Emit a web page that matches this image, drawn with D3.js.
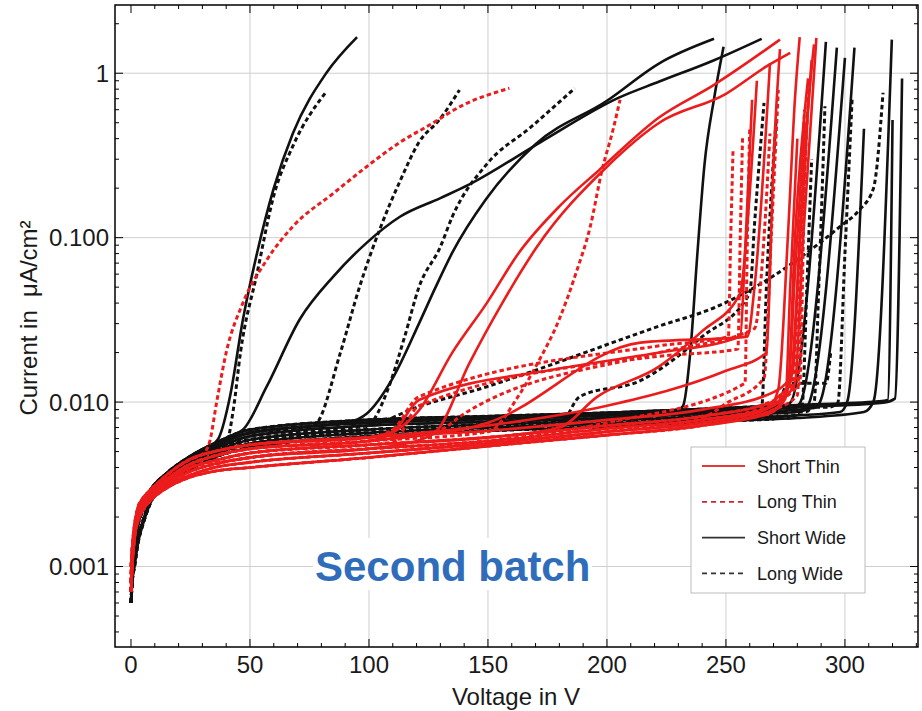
<!DOCTYPE html>
<html>
<head>
<meta charset="utf-8">
<script src="https://cdn.jsdelivr.net/npm/d3@7"></script>
<style>
  body { margin: 0; background: #fff; }
  text { font-family: "Liberation Sans", Arial, sans-serif; }
</style>
</head>
<body>
<div id="chart"></div>
<script>
// leakage levels (V, uA/cm2), several levels per colour
var leakBlack = [
  [[0,0.0006],[0.5,0.0009],[1.5,0.0014],[3,0.0020],[5,0.0024],[8,0.0029],[15,0.0037],[25,0.0047],[35,0.0056],[50,0.0068],[100,0.0078],[150,0.0082],[200,0.0086],[250,0.0092],[280,0.0096],[320,0.0104]],
  [[0,0.0007],[0.5,0.0010],[1.5,0.0015],[3,0.0020],[5,0.0024],[8,0.0028],[15,0.0036],[25,0.0046],[35,0.0054],[50,0.0065],[100,0.0075],[150,0.0079],[200,0.0083],[250,0.0089],[280,0.0093],[320,0.0101]],
  [[0,0.0008],[0.5,0.0010],[1.5,0.0014],[3,0.0019],[5,0.0023],[8,0.0027],[15,0.0035],[25,0.0045],[35,0.0052],[50,0.0062],[100,0.0072],[150,0.0076],[200,0.0080],[250,0.0086],[280,0.0090],[320,0.0099]],
  [[0,0.0007],[0.5,0.0009],[1.5,0.0013],[3,0.0018],[5,0.0022],[8,0.0027],[15,0.0034],[25,0.0043],[35,0.0050],[50,0.0059],[100,0.0068],[150,0.0073],[200,0.0077],[250,0.0083],[280,0.0087],[320,0.0096]],
  [[0,0.0006],[0.5,0.0008],[1.5,0.0011],[3,0.0015],[5,0.0019],[8,0.0025],[15,0.0033],[25,0.0041],[35,0.0048],[50,0.0056],[100,0.0065],[150,0.0070],[200,0.0074],[250,0.0080],[280,0.0083],[320,0.0093]],
  [[0,0.0006],[0.5,0.0008],[1.5,0.0010],[3,0.0014],[5,0.0018],[8,0.0024],[15,0.0032],[25,0.0039],[35,0.0046],[50,0.0053],[100,0.0062],[150,0.0067],[200,0.0071],[250,0.0077],[280,0.0080],[320,0.0090]]
];
var leakRed = [
  [[0,0.0010],[0.5,0.0013],[1.5,0.0018],[3,0.0023],[5,0.0026],[8,0.0029],[15,0.0036],[25,0.0045],[35,0.0050],[50,0.0055],[100,0.0061],[150,0.0067],[200,0.0078],[240,0.0090],[270,0.0115],[280,0.0135]],
  [[0,0.0009],[0.5,0.0012],[1.5,0.0017],[3,0.0022],[5,0.0025],[8,0.0028],[15,0.0034],[25,0.0042],[35,0.0047],[50,0.0052],[100,0.0058],[150,0.0064],[200,0.0075],[240,0.0086],[270,0.0108],[280,0.0126]],
  [[0,0.0008],[0.5,0.0011],[1.5,0.0016],[3,0.0021],[5,0.0024],[8,0.0027],[15,0.0033],[25,0.0040],[35,0.0044],[50,0.0049],[100,0.0055],[150,0.0061],[200,0.0072],[240,0.0082],[270,0.0101],[280,0.0118]],
  [[0,0.0008],[0.5,0.0011],[1.5,0.0016],[3,0.0021],[5,0.0024],[8,0.0027],[15,0.0032],[25,0.0038],[35,0.0042],[50,0.0046],[100,0.0052],[150,0.0058],[200,0.0069],[240,0.0078],[270,0.0095],[280,0.0110]],
  [[0,0.0007],[0.5,0.0010],[1.5,0.0015],[3,0.0020],[5,0.0023],[8,0.0026],[15,0.0031],[25,0.0036],[35,0.0040],[50,0.0043],[100,0.0049],[150,0.0056],[200,0.0066],[240,0.0075],[270,0.0090],[280,0.0104]],
  [[0,0.0007],[0.5,0.0010],[1.5,0.0015],[3,0.0019],[5,0.0022],[8,0.0025],[15,0.0030],[25,0.0035],[35,0.0038],[50,0.0040],[100,0.0046],[150,0.0054],[200,0.0063],[240,0.0072],[270,0.0086],[280,0.0098]]
];

// each curve: leak level index + points after it leaves the band
var shortThin = [
  {leak: 1, pts: [[112,0.0068],[121,0.0089],[135,0.020],[149.5,0.040],[163,0.081],[180,0.155],[197,0.26],[222,0.54],[245,0.85],[272.7,1.6]]},
  {leak: 3, pts: [[120,0.0058],[128.6,0.0067],[142,0.017],[156,0.040],[170.6,0.088],[200,0.27],[222,0.50],[250,0.75],[267,1.1],[277,1.33]]},
  {leak: 0, pts: [[110,0.0066],[121,0.0103],[180,0.016],[222,0.020],[256,0.025],[258,0.08],[261,0.69]]},
  {leak: 2, pts: [[180,0.0070],[196,0.0108],[222,0.0165],[240,0.027],[256,0.046],[259,0.12],[263,0.9]]},
  {leak: 1, pts: [[150,0.0075],[214,0.023],[259,0.025],[262,0.05],[268.5,1.15]]},
  {leak: 4, pts: [[268,0.0093],[272,0.012],[276,0.1],[279,0.7],[281,1.66]]},
  {leak: 5, pts: [[270,0.0090],[276,0.012],[279,0.1],[284.5,0.93]]},
  {leak: 3, pts: [[272,0.0100],[279,0.013],[282,0.08],[288,1.64]]},
  {leak: 0, pts: [[274,0.0125],[278,0.015],[281,0.1],[286,1.2]]},
  {leak: 2, pts: [[272,0.0108],[277,0.013],[280,0.05],[284,0.5],[287,1.5]]},
  {leak: 4, pts: [[265,0.0088],[276,0.0120],[279,0.06],[283,0.5]]},
  {leak: 5, pts: [[268,0.0085],[275,0.0105],[277,0.05],[280,0.4]]},
  {leak: 0, pts: [[150,0.0072],[200,0.0095],[250,0.0155],[267,0.020],[270,0.3],[272.7,1.4]]}
];
var longThin = [
  {leak: 0, pts: [[30,0.0048],[33,0.0057],[36,0.010],[40,0.020],[47,0.040],[57,0.073],[68,0.117],[85,0.186],[99,0.27],[113,0.38],[125,0.48],[139.5,0.64],[159,0.81]]},
  {leak: 1, pts: [[150,0.0066],[163,0.011],[170.6,0.017],[180,0.032],[187,0.061],[193,0.117],[198,0.26],[202.5,0.45],[205.5,0.69]]},
  {leak: 0, pts: [[110,0.0068],[121,0.0108],[222,0.022],[251,0.025],[252,0.1],[253,0.35]]},
  {leak: 2, pts: [[110,0.0057],[121,0.0095],[222,0.019],[255,0.021],[256,0.1],[257,0.42]]},
  {leak: 3, pts: [[200,0.0075],[258,0.013],[259,0.1],[260,0.47]]},
  {leak: 1, pts: [[130,0.0068],[140,0.0085],[222,0.020],[262,0.028],[266,0.1],[268.5,0.43]]},
  {leak: 4, pts: [[240,0.0080],[250,0.0098],[266,0.014],[269,0.1],[272,0.79]]},
  {leak: 2, pts: [[270,0.0102],[278,0.013],[281,0.1],[283,0.6]]},
  {leak: 5, pts: [[270,0.0090],[280,0.0110],[282,0.1],[284,0.5]]},
  {leak: 3, pts: [[265,0.0092],[281,0.013],[283,0.2],[285,0.9]]}
];
var shortWide = [
  {leak: 0, pts: [[37,0.0061],[41.6,0.0108],[47,0.0316],[53,0.081],[60,0.20],[68,0.43],[82,1.0],[95,1.66]]},
  {leak: 0, pts: [[45,0.0065],[47,0.0068],[57,0.0124],[71,0.032],[85,0.058],[99,0.093],[113,0.134],[130,0.174],[142,0.21],[172,0.38],[205,0.71],[222,0.89],[245,1.2],[265,1.62]]},
  {leak: 1, pts: [[92,0.0076],[99,0.0085],[110,0.014],[121,0.030],[128,0.050],[135,0.081],[149,0.17],[170,0.37],[200,0.68],[222,1.15],[245,1.62]]},
  {leak: 2, pts: [[228,0.0085],[232,0.0095],[235,0.020],[238,0.080],[241,0.28],[245,0.7],[249,1.45]]},
  {leak: 0, pts: [[275,0.0096],[277,0.0099],[292,1.55]]},
  {leak: 1, pts: [[279,0.0093],[281,0.0098],[296.6,1.43]]},
  {leak: 3, pts: [[283,0.0089],[285,0.0099],[300,1.24]]},
  {leak: 2, pts: [[287,0.0092],[289.5,0.0100],[304,1.43]]},
  {leak: 4, pts: [[298,0.0087],[301,0.0101],[308,0.46]]},
  {leak: 5, pts: [[308,0.0087],[312,0.0101],[319.7,1.6]]},
  {leak: 0, pts: [[314,0.0101],[318,0.0103],[320,0.52]]},
  {leak: 1, pts: [[316,0.0099],[321,0.0105],[324,0.93]]}
];
var longWide = [
  {leak: 2, pts: [[40,0.0056],[43,0.009],[46,0.020],[53,0.061],[60,0.18],[68,0.36],[82,0.77]]},
  {leak: 1, pts: [[75,0.0070],[78,0.0074],[88,0.020],[96,0.050],[105,0.117],[113,0.22],[121,0.38],[130,0.53],[138,0.79]]},
  {leak: 3, pts: [[98,0.0068],[102,0.0078],[108,0.012],[115,0.025],[121,0.050],[130,0.088],[135,0.134],[149.5,0.28],[168,0.47],[186.5,0.81]]},
  {leak: 2, pts: [[100,0.0072],[121,0.0094],[149.5,0.0124],[163.5,0.0145],[222,0.029],[246,0.038],[267,0.055],[284,0.081],[298,0.117],[306,0.147],[312,0.2],[316,0.76]]},
  {leak: 4, pts: [[180,0.0073],[188.6,0.0108],[214,0.0135],[240,0.025],[260,0.046],[262,0.12],[266,0.66]]},
  {leak: 3, pts: [[283,0.0087],[287,0.0098],[289,0.05],[291.6,0.63]]},
  {leak: 1, pts: [[293,0.0093],[297,0.0099],[300,0.08],[303,0.69]]},
  {leak: 5, pts: [[277,0.0080]]},
  {leak: 4, pts: [[279,0.0083],[282,0.0095],[284,0.05],[286,0.3]]},
  {leak: 5, pts: [[270,0.0079],[276,0.013],[292,0.013],[294,0.02]]},
  {leak: 0, pts: [[276,0.0096]]},
  {leak: 3, pts: [[262,0.0085],[265,0.0092],[267,0.05],[271,0.5]]}
];

var xTicks = [0, 50, 100, 150, 200, 250, 300];
var yTicks = [0.001, 0.01, 0.1, 1];
var yTickLabels = ["0.001", "0.010", "0.100", "1"];
var legendLabels = ["Short Thin", "Long Thin", "Short Wide", "Long Wide"];

var W = 922, H = 711;
var box = {left: 115, right: 918, top: 5, bottom: 647};
var red = "#ec1c1c", black = "#111";

var x = d3.scaleLinear().domain([-6.72, 330.7]).range([box.left, box.right]);
var y = d3.scaleLog().domain([0.000324, 2.60]).range([box.bottom, box.top]);

var svg = d3.select("#chart").append("svg")
  .attr("width", W).attr("height", H);

svg.append("defs").append("clipPath").attr("id", "clip")
  .append("rect")
    .attr("x", box.left).attr("y", box.top)
    .attr("width", box.right - box.left).attr("height", box.bottom - box.top);

// grid
var grid = svg.append("g").attr("stroke", "#cfcfcf").attr("stroke-width", 1);
xTicks.filter(function(d){ return d > 0; }).forEach(function(d){
  grid.append("line").attr("x1", x(d)).attr("x2", x(d))
    .attr("y1", box.top).attr("y2", box.bottom);
});
yTicks.forEach(function(d){
  grid.append("line").attr("y1", y(d)).attr("y2", y(d))
    .attr("x1", box.left).attr("x2", box.right);
});

// "Second batch" sits on a white patch that hides the grid
svg.append("rect").attr("x", 313).attr("y", 538).attr("width", 279).attr("height", 52)
  .attr("fill", "#fff");

// curves
function build(c, leaks){
  var start = c.pts[0][0];
  var pts = leaks[c.leak].filter(function(p){ return p[0] < start; });
  return pts.concat(c.pts);
}
var line = d3.line()
  .x(function(d){ return x(d[0]); })
  .y(function(d){ return y(d[1]); })
  .curve(d3.curveMonotoneX);

var plot = svg.append("g").attr("clip-path", "url(#clip)").attr("fill", "none")
  .attr("stroke-linejoin", "round");

function drawSet(set, leaks, color, dashed){
  plot.selectAll(null)
    .data(set)
    .enter()
    .append("path")
      .attr("d", function(c){ return line(build(c, leaks)); })
      .attr("stroke", color)
      .attr("stroke-width", dashed ? 3 : 2.6)
      .attr("stroke-dasharray", dashed ? "4.5,3" : null);
}
drawSet(longWide, leakBlack, black, true);
drawSet(shortWide, leakBlack, black, false);
drawSet(longThin, leakRed, red, true);
drawSet(shortThin, leakRed, red, false);

// frame and ticks
var axes = svg.append("g").attr("stroke", "#000");
axes.append("rect").attr("x", box.left).attr("y", box.top)
  .attr("width", box.right - box.left).attr("height", box.bottom - box.top)
  .attr("fill", "none").attr("stroke-width", 1.5);

d3.range(0, 331, 10).forEach(function(v){
  var len = v % 50 === 0 ? 8 : 4;
  axes.append("line").attr("x1", x(v)).attr("x2", x(v))
    .attr("y1", box.bottom).attr("y2", box.bottom - len);
  axes.append("line").attr("x1", x(v)).attr("x2", x(v))
    .attr("y1", box.top).attr("y2", box.top + len);
});
y.ticks(40).forEach(function(v){
  var major = yTicks.some(function(t){ return Math.abs(t - v) < 1e-9; });
  var len = major ? 8 : 4;
  axes.append("line").attr("y1", y(v)).attr("y2", y(v))
    .attr("x1", box.left).attr("x2", box.left + len);
  axes.append("line").attr("y1", y(v)).attr("y2", y(v))
    .attr("x1", box.right).attr("x2", box.right - len);
});

// tick labels
svg.append("g").selectAll("text").data(xTicks).enter().append("text")
  .attr("x", function(d){ return x(d); })
  .attr("y", 673)
  .attr("text-anchor", "middle")
  .attr("font-size", 24)
  .attr("fill", "#1a1a1a")
  .text(function(d){ return d; });

svg.append("g").selectAll("text").data(yTicks).enter().append("text")
  .attr("x", 109)
  .attr("y", function(d){ return y(d) + 8.5; })
  .attr("text-anchor", "end")
  .attr("font-size", 24)
  .attr("fill", "#1a1a1a")
  .text(function(d, i){ return yTickLabels[i]; });

// axis titles
svg.append("text").attr("x", 516).attr("y", 705)
  .attr("text-anchor", "middle").attr("font-size", 24).attr("fill", "#1a1a1a")
  .text("Voltage in V");
svg.append("text")
  .attr("transform", "translate(37,318) rotate(-90)")
  .attr("text-anchor", "middle").attr("font-size", 24).attr("fill", "#1a1a1a")
  .attr("xml:space", "preserve")
  .text("Current in  \u03bcA/cm\u00b2");

// legend
var lg = svg.append("g");
lg.append("rect").attr("x", 691).attr("y", 447).attr("width", 174).attr("height", 146)
  .attr("fill", "#fff").attr("stroke", "#bdbdbd").attr("stroke-width", 1);
var legendStyle = [
  {color: "#e53935", dash: null},
  {color: "#c62838", dash: "5,4"},
  {color: "#333", dash: null},
  {color: "#333", dash: "5,4"}
];
legendLabels.forEach(function(lab, i){
  var yy = 466 + i * 35.8;
  lg.append("line").attr("x1", 702).attr("x2", 745).attr("y1", yy).attr("y2", yy)
    .attr("stroke", legendStyle[i].color).attr("stroke-width", 1.8)
    .attr("stroke-dasharray", legendStyle[i].dash);
  lg.append("text").attr("x", 757).attr("y", yy + 6.5)
    .attr("font-size", 18).attr("fill", "#1a1a1a").text(lab);
});

// batch label
svg.append("text").attr("x", 315).attr("y", 581)
  .attr("font-size", 42).attr("font-weight", "bold").attr("fill", "#2f6dbb")
  .text("Second batch");
</script>
</body>
</html>
